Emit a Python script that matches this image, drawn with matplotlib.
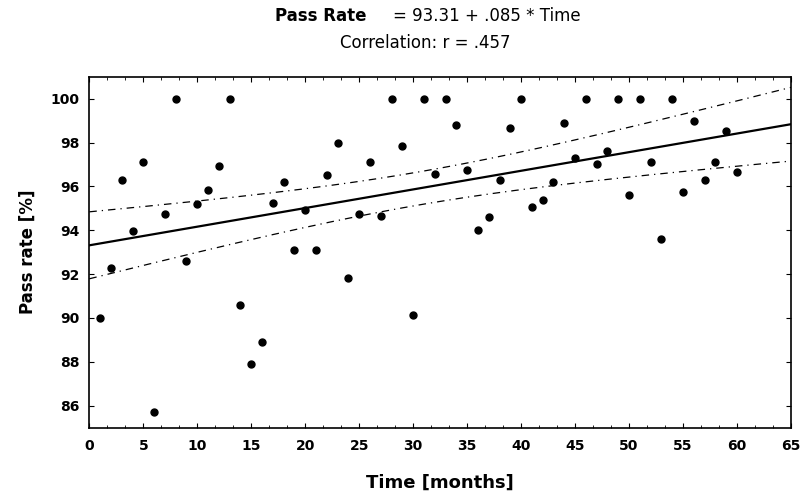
import numpy as np
import matplotlib.pyplot as plt
from matplotlib.ticker import AutoMinorLocator

# 월별 합격률 데이터
months = list(range(1, 61))
pass_rate = [90.0, 92.3, 96.27, 93.96, 97.1, 85.72, 94.76, 100, 92.6, 95.21,
             95.82, 96.95, 100, 90.6, 87.92, 88.9, 95.24, 96.22, 93.1, 94.91,
             93.1, 96.5, 98.0, 91.84, 94.76, 97.1, 94.64, 100, 97.86, 90.15,
             100, 96.57, 100, 98.79, 96.75, 94.03, 94.59, 96.3, 98.64, 100,
             95.06, 95.39, 96.19, 98.9, 97.28, 100, 97.01, 97.63, 100, 95.59,
             100, 97.1, 93.58, 100, 95.74, 98.99, 96.3, 97.1, 98.52, 96.65]
x_ticks = [0, 5, 10, 15, 20, 25, 30, 35, 40, 45, 50, 55, 60, 65]
y_ticks = [86, 88, 90, 92, 94, 96, 98, 100]

x = np.array(months, dtype=float)
y = np.array(pass_rate)
n = len(x)
slope, intercept = np.polyfit(x, y, 1)

# 회귀선과 95% 신뢰구간
xx = np.linspace(0, 65, 200)
yy = intercept + slope * xx
resid = y - (intercept + slope * x)
s = np.sqrt(np.sum(resid ** 2) / (n - 2))
sxx = np.sum((x - x.mean()) ** 2)
half = 2.0017 * s * np.sqrt(1.0 / n + (xx - x.mean()) ** 2 / sxx)

fig = plt.figure(figsize=(8.04, 4.98), dpi=100)
ax = fig.add_axes([0.1111, 0.1412, 0.8727, 0.7048])

ax.plot(x, y, 'o', color='black', markersize=5)
ax.plot(xx, yy, color='black', linewidth=1.6)
ax.plot(xx, yy + half, color='black', linewidth=0.9, linestyle=(0, (6, 4, 1, 4)))
ax.plot(xx, yy - half, color='black', linewidth=0.9, linestyle=(0, (6, 4, 1, 4)))

ax.set_xlim(0, 65)
ax.set_ylim(85, 101)
ax.set_xticks(x_ticks)
ax.set_yticks(y_ticks)
ax.xaxis.set_minor_locator(AutoMinorLocator(3))
ax.tick_params(which='both', direction='in', top=True, right=True, labelsize=10, colors='black')
ax.tick_params(which='major', length=3.5)
ax.tick_params(which='minor', length=2.5)
ax.tick_params(axis='x', pad=8)
ax.tick_params(axis='y', pad=7)
for lab in ax.get_xticklabels() + ax.get_yticklabels():
    lab.set_fontweight('bold')
for sp in ax.spines.values():
    sp.set_linewidth(1.2)

ax.set_xlabel('Time [months]', fontsize=13, fontweight='bold')
ax.set_ylabel('Pass rate [%]', fontsize=12, fontweight='bold')
ax.xaxis.set_label_coords(0.5, -0.13)
ax.yaxis.set_label_coords(-0.0745, 0.5)

fig.text(0.342, 0.968, 'Pass Rate', fontsize=12, fontweight='bold', va='center', ha='left')
fig.text(0.489, 0.968, '= 93.31 + .085 * Time', fontsize=12, va='center', ha='left')
fig.text(0.5286, 0.914, 'Correlation: r = .457', fontsize=12, va='center', ha='center')

plt.savefig('out.png', dpi=100)
